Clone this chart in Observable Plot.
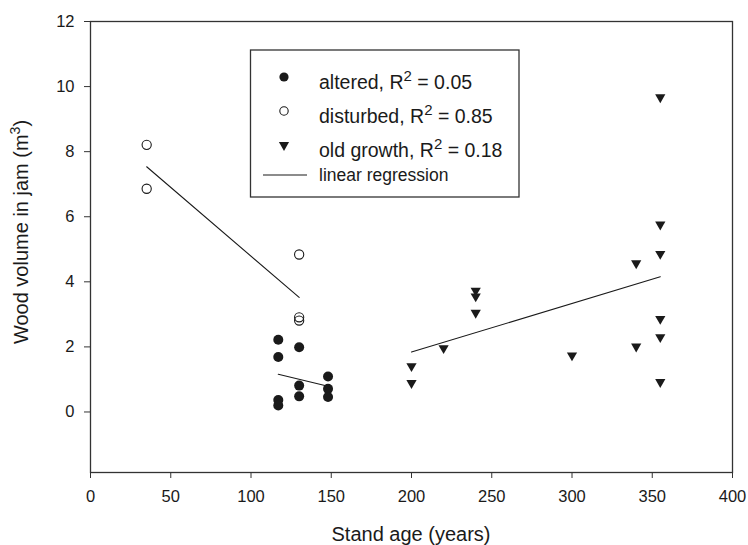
<!DOCTYPE html>
<html><head><meta charset="utf-8">
<script src="https://cdn.jsdelivr.net/npm/d3@7"></script>
<script src="https://cdn.jsdelivr.net/npm/@observablehq/plot@0.6"></script>
<style>body{margin:0;background:#fff} #chart{width:748px;height:545px}</style>
</head><body><div id="chart"></div>
<script>
// --- data ---
const alteredAge = [117, 117, 117, 117, 130, 130, 130, 148, 148, 148];
const alteredVol = [2.22, 1.69, 0.37, 0.20, 1.99, 0.81, 0.48, 1.09, 0.71, 0.46];
const disturbedAge = [35, 35, 130, 130, 130];
const disturbedVol = [8.21, 6.86, 4.84, 2.91, 2.81];
const oldAge = [200, 200, 220, 240, 240, 240, 300, 340, 340, 355, 355, 355, 355, 355, 355];
const oldVol = [1.41, 0.89, 1.96, 3.73, 3.55, 3.05, 1.74, 4.57, 2.01, 9.67, 5.76, 4.86, 2.86, 2.30, 0.92];
const xTicks = [0, 50, 100, 150, 200, 250, 300, 350, 400];
const yTicks = [0, 2, 4, 6, 8, 10, 12];
const seriesNames = ["altered", "disturbed", "old growth"];
const r2Values = ["0.05", "0.85", "0.18"];
const lineLabel = "linear regression";
const xTitle = "Stand age (years)";
const yTitle = "Wood volume in jam (m";

const toRows = (xs, ys) => xs.map((x, i) => ({age: x, vol: ys[i]}));
const altered = toRows(alteredAge, alteredVol);
const disturbed = toRows(disturbedAge, disturbedVol);
const oldGrowth = toRows(oldAge, oldVol);

const FONT = "Liberation Sans, Arial, Helvetica, sans-serif";
const INK = "#1a1a1a";

const plot = Plot.plot({
  width: 748, height: 545,
  marginLeft: 90, marginRight: 16, marginTop: 21, marginBottom: 73,
  style: {fontFamily: FONT, fontSize: "16.5px", color: INK, background: "#fff"},
  x: {domain: [0, 400]},
  y: {domain: [-1.86, 12]},
  marks: [
    Plot.axisX({ticks: xTicks, tickSize: 6, tickPadding: 12, label: null, stroke: "#333", fill: INK}),
    Plot.axisY({ticks: yTicks, tickSize: 6, tickPadding: 10, label: null, stroke: "#333", fill: INK}),
    Plot.frame({stroke: "#333", strokeWidth: 1.3}),
    Plot.linearRegressionY(disturbed, {x: "age", y: "vol", stroke: INK, strokeWidth: 1.1, ci: 0}),
    Plot.linearRegressionY(altered, {x: "age", y: "vol", stroke: INK, strokeWidth: 1.1, ci: 0}),
    Plot.linearRegressionY(oldGrowth, {x: "age", y: "vol", stroke: INK, strokeWidth: 1.1, ci: 0}),
    Plot.dot(altered, {x: "age", y: "vol", r: 5, fill: INK, stroke: "none"}),
    Plot.dot(disturbed, {x: "age", y: "vol", r: 4.6, fill: "none", stroke: INK, strokeWidth: 1.1}),
    Plot.dot(oldGrowth, {x: "age", y: "vol", symbol: "triangle", r: 3.8, rotate: 180, fill: INK, stroke: "none"})
  ]
});

const svg = d3.select(plot);

// axis titles
svg.append("text")
  .attr("x", 411).attr("y", 541)
  .attr("text-anchor", "middle")
  .attr("font-family", FONT).attr("font-size", 20).attr("fill", INK)
  .text(xTitle);

const yt = svg.append("text")
  .attr("transform", "translate(28,232) rotate(-90)")
  .attr("text-anchor", "middle")
  .attr("font-family", FONT).attr("font-size", 20).attr("fill", INK);
yt.append("tspan").text(yTitle);
yt.append("tspan").attr("dy", -8).attr("font-size", 14).text("3");
yt.append("tspan").attr("dy", 8).text(")");

// legend
const lg = svg.append("g").attr("font-family", FONT).attr("fill", INK).attr("text-anchor", "start");
lg.append("rect").attr("x", 250.5).attr("y", 50).attr("width", 268.5).attr("height", 147)
  .attr("fill", "#fff").attr("stroke", "#333").attr("stroke-width", 1.3);
const mx = 284;
lg.append("circle").attr("cx", mx).attr("cy", 77).attr("r", 4.6).attr("fill", INK);
lg.append("circle").attr("cx", mx).attr("cy", 111).attr("r", 4.2).attr("fill", "none").attr("stroke", INK).attr("stroke-width", 1.1);
lg.append("path").attr("d", d3.symbol(d3.symbolTriangle, 45)()).attr("transform", `translate(${mx},145) rotate(180)`).attr("fill", INK);
lg.append("line").attr("x1", 263).attr("x2", 307).attr("y1", 175).attr("y2", 175).attr("stroke", INK).attr("stroke-width", 1.1);
const baselines = [89, 123, 157];
seriesNames.forEach((name, i) => {
  const t = lg.append("text").attr("x", 319).attr("y", baselines[i]).attr("font-size", 19.5).attr("text-anchor", "start");
  t.append("tspan").text(name + ", R");
  t.append("tspan").attr("dy", -8).attr("font-size", 15).text("2");
  t.append("tspan").attr("dy", 8).text(" = " + r2Values[i]);
});
lg.append("text").attr("x", 319).attr("y", 181).attr("font-size", 17.5).attr("text-anchor", "start").text(lineLabel);

document.getElementById("chart").appendChild(plot);
</script>
</body></html>
